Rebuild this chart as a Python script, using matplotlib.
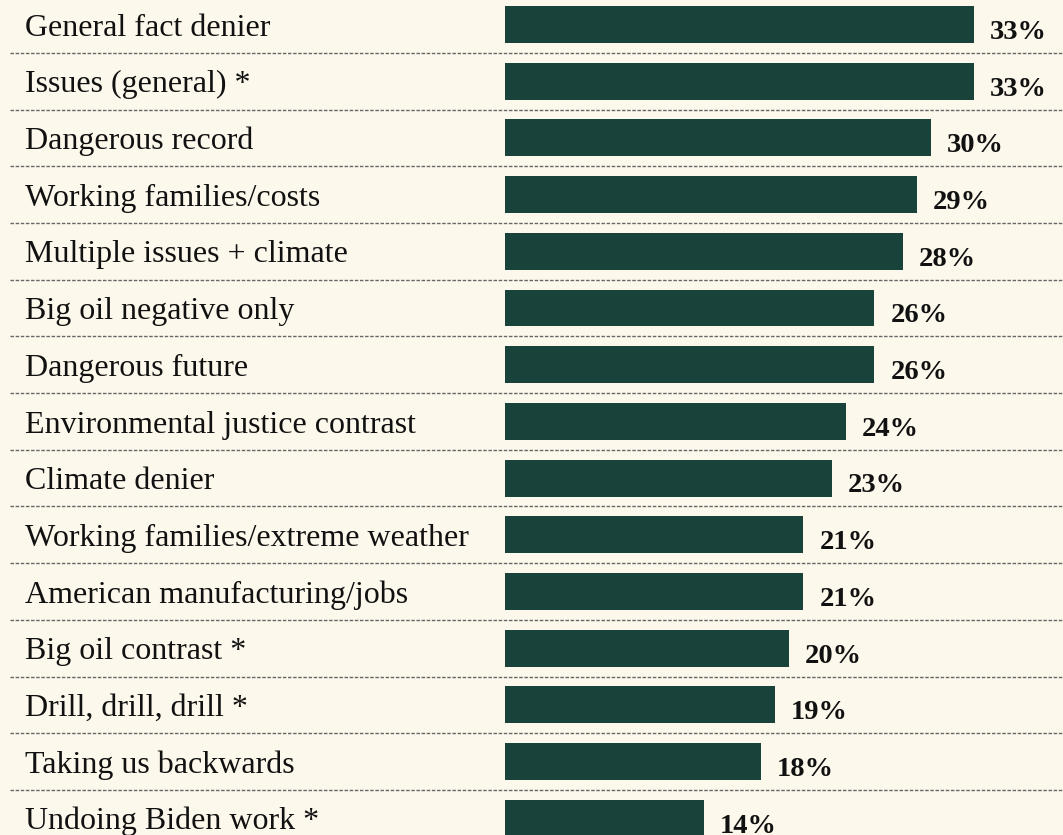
import matplotlib.pyplot as plt

categories = [
    "General fact denier",
    "Issues (general) *",
    "Dangerous record",
    "Working families/costs",
    "Multiple issues + climate",
    "Big oil negative only",
    "Dangerous future",
    "Environmental justice contrast",
    "Climate denier",
    "Working families/extreme weather",
    "American manufacturing/jobs",
    "Big oil contrast *",
    "Drill, drill, drill *",
    "Taking us backwards",
    "Undoing Biden work *",
]
values = [33, 33, 30, 29, 28, 26, 26, 24, 23, 21, 21, 20, 19, 18, 14]

bg = '#fdf8ec'
bar_color = '#19433a'

fig = plt.figure(figsize=(10.63, 8.35), dpi=100, facecolor=bg)
ax = fig.add_axes([0, 0, 1, 1])
ax.set_facecolor(bg)

rows = list(range(len(categories)))
ax.barh(rows, values, height=0.65, color=bar_color, left=0)

# dashed separators between rows
ytf = ax.get_yaxis_transform()
for i in rows[:-1]:
    ax.plot([10 / 1063, 1], [i + 0.5, i + 0.5], transform=ytf, color='#666666',
            linewidth=1.0, linestyle=(0, (2.5, 1.2)), zorder=1)

for i, (cat, v) in enumerate(zip(categories, values)):
    ax.annotate(cat, xy=(25 / 1063, i), xycoords=ytf, xytext=(0, -8),
                textcoords='offset points', ha='left', va='baseline',
                fontsize=23, family='Liberation Serif', color='#111111')
    ax.annotate(f"{v}%", xy=(v, i), xytext=(11.5, -10.3), textcoords='offset points',
                ha='left', va='baseline', fontsize=20.5, fontweight='bold',
                family='Liberation Serif', color='#111111')

ax.set_xlim(-35.54, 39.27)
ax.set_ylim(14.294, -0.432)
ax.axis('off')

fig.savefig('out.png', dpi=100, facecolor=bg)
